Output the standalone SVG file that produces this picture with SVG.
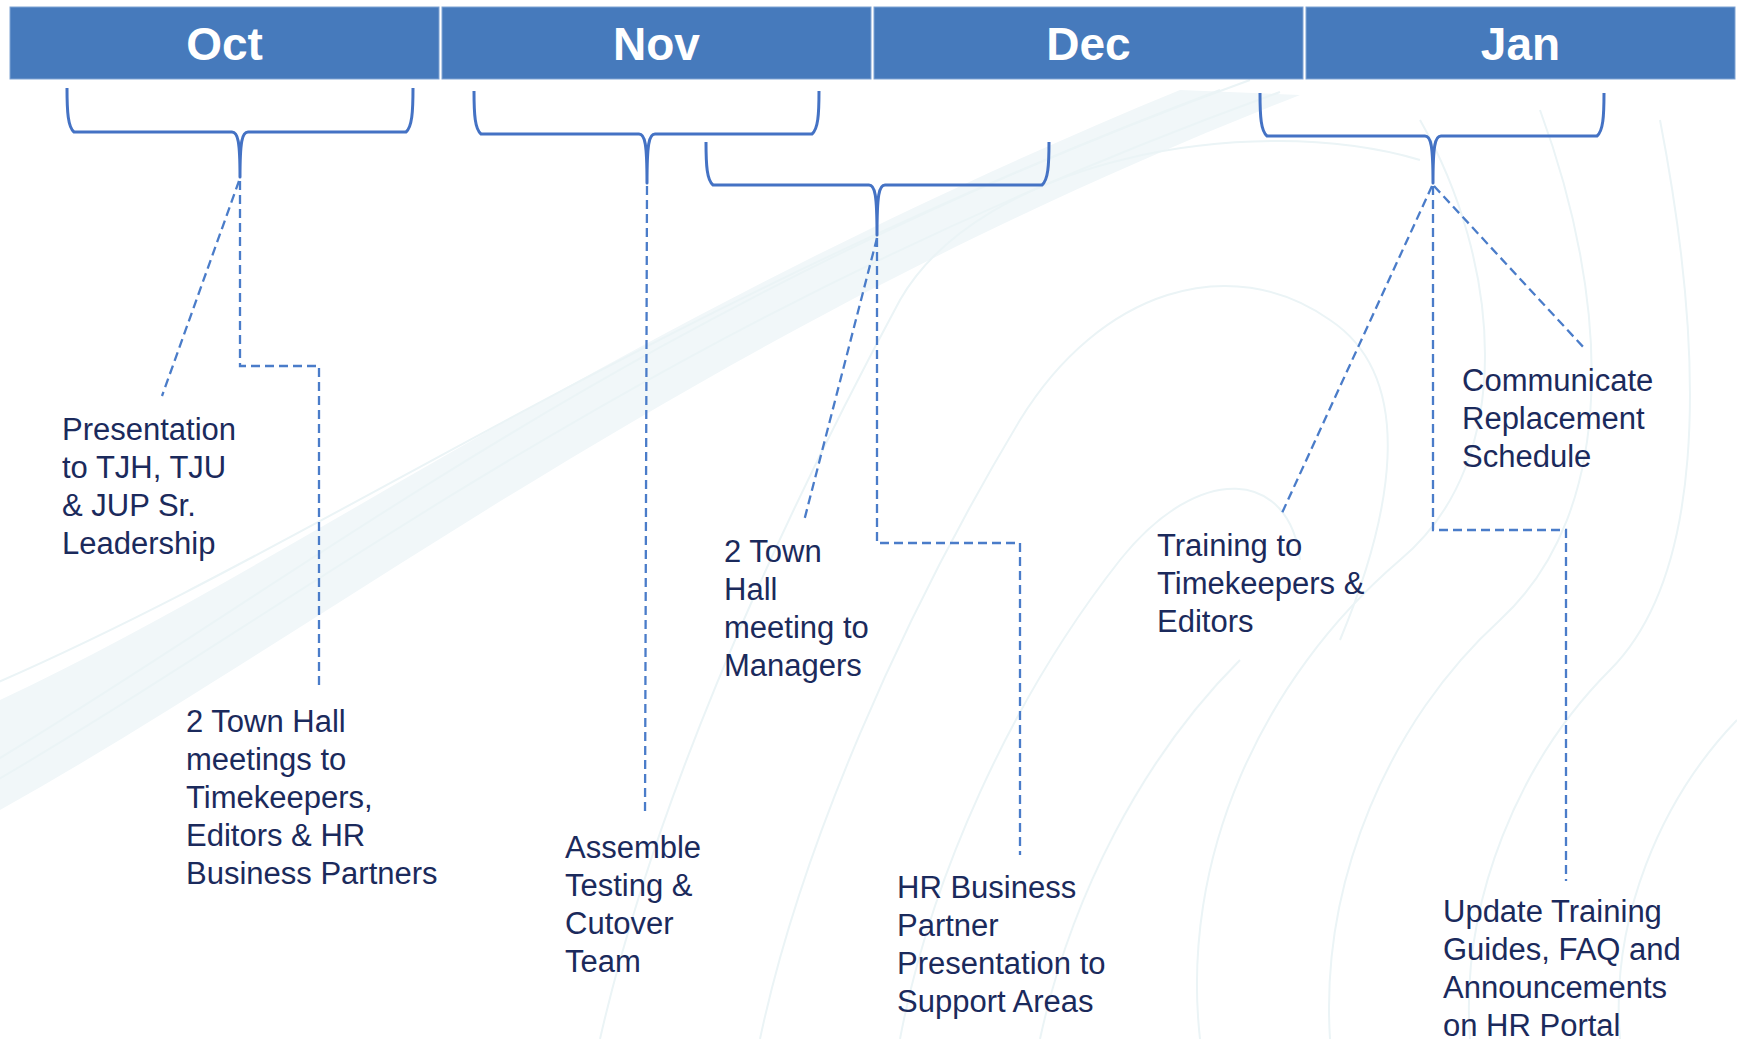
<svg xmlns="http://www.w3.org/2000/svg" width="1737" height="1039" viewBox="0 0 1737 1039">
  <style>
    .bg { fill: none; stroke: #EBF4F6; stroke-width: 2; }
    .ribbon { fill: #F1F7F9; stroke: none; }
    .month rect { fill: #467ABC; stroke: #7FA3D3; stroke-width: 1; }
    .month text { font-family: "Liberation Sans", Arial, sans-serif; font-weight: bold; font-size: 46px; fill: #FFFFFF; text-anchor: middle; }
    .brace { fill: none; stroke: #4472C4; stroke-width: 3; stroke-linejoin: round; }
    .dash { fill: none; stroke: #4A7CC9; stroke-width: 2.3; stroke-dasharray: 9 5; }
    .label { font-family: "Liberation Sans", Arial, sans-serif; font-size: 31px; fill: #1B2A5C; }
  </style>

  <rect x="0" y="0" width="1737" height="1039" fill="#FFFFFF"/>

  <!-- faint background ribbon and contour lines -->
  <g id="background">
    <path class="ribbon" d="M 0,700 C 300,560 620,320 1180,90 L 1300,95 C 700,330 340,620 0,810 Z"/>
    <path class="bg" d="M -20,770 C 300,580 640,300 1250,80"/>
    <path class="bg" d="M -20,790 C 310,600 650,320 1280,92"/>
    <path class="bg" d="M -20,690 C 330,540 640,310 1220,90"/>
    <path class="bg" d="M 600,1039 C 650,820 760,560 900,300 C 980,160 1250,110 1420,160"/>
    <path class="bg" d="M 760,1039 C 800,850 900,620 1020,420 C 1100,290 1230,250 1330,320 C 1420,380 1390,520 1340,640"/>
    <path class="bg" d="M 900,1039 C 930,880 1010,700 1120,560 C 1200,460 1290,470 1300,560"/>
    <path class="bg" d="M 1040,1039 C 1070,900 1140,760 1240,660"/>
    <path class="bg" d="M 1200,1039 C 1180,860 1260,680 1400,560 C 1520,460 1500,260 1420,120"/>
    <path class="bg" d="M 1330,1039 C 1320,880 1390,720 1500,620 C 1620,510 1610,300 1540,110"/>
    <path class="bg" d="M 1470,1039 C 1460,900 1520,760 1610,670 C 1700,580 1710,380 1660,120"/>
    <path class="bg" d="M 1620,1039 C 1610,920 1660,800 1737,720"/>
  </g>

  <!-- month header -->
  <g id="month-oct" class="month"><rect x="10" y="7" width="429" height="72"/><text x="224.5" y="60">Oct</text></g>
  <g id="month-nov" class="month"><rect x="442" y="7" width="429" height="72"/><text x="656.5" y="60">Nov</text></g>
  <g id="month-dec" class="month"><rect x="874" y="7" width="429" height="72"/><text x="1088.5" y="60">Dec</text></g>
  <g id="month-jan" class="month"><rect x="1306" y="7" width="429" height="72"/><text x="1520.5" y="60">Jan</text></g>

  <!-- braces grouping the periods -->
  <g id="brace-oct"><path class="brace" d="M 67,88 C 67,112 68,127 74,132 L 232,132 C 238,132 240,142 240,177 C 240,142 242,132 248,132 L 406,132 C 412,127 413,112 413,88"/></g>
  <g id="brace-nov"><path class="brace" d="M 474,91 C 474,115 475,129 481,134 L 639,134 C 645,134 647,144 647,183 C 647,144 649,134 655,134 L 812,134 C 818,129 819,115 819,91"/></g>
  <g id="brace-novdec"><path class="brace" d="M 706,142 C 706,166 707,180 713,185 L 869,185 C 875,185 877,195 877,235 C 877,195 879,185 885,185 L 1042,185 C 1048,180 1049,166 1049,142"/></g>
  <g id="brace-jan"><path class="brace" d="M 1260,93 C 1260,117 1261,131 1267,136 L 1425,136 C 1431,136 1433,146 1433,183 C 1433,146 1435,136 1441,136 L 1597,136 C 1603,131 1604,117 1604,93"/></g>

  <!-- dashed leaders from the braces to the activities -->
  <g id="connectors">
    <path class="dash" d="M 239,181 L 162,396"/>
    <path class="dash" d="M 240,181 L 240,366 L 319,366 L 319,690"/>
    <path class="dash" d="M 647,186 L 645,816"/>
    <path class="dash" d="M 877,238 L 804,521"/>
    <path class="dash" d="M 877,238 L 877,543 L 1020,543 L 1020,855"/>
    <path class="dash" d="M 1432,186 L 1282,513"/>
    <path class="dash" d="M 1434,186 L 1586,350"/>
    <path class="dash" d="M 1433,186 L 1433,530 L 1566,530 L 1566,881"/>
  </g>

  <!-- activities -->
  <g id="act-presentation">
    <text class="label" x="62" y="440"><tspan x="62">Presentation</tspan><tspan x="62" dy="38">to TJH, TJU</tspan><tspan x="62" dy="38">&amp; JUP Sr.</tspan><tspan x="62" dy="38">Leadership</tspan></text>
  </g>
  <g id="act-townhall-timekeepers">
    <text class="label" x="186" y="732"><tspan x="186">2 Town Hall</tspan><tspan x="186" dy="38">meetings to</tspan><tspan x="186" dy="38">Timekeepers,</tspan><tspan x="186" dy="38">Editors &amp; HR</tspan><tspan x="186" dy="38">Business Partners</tspan></text>
  </g>
  <g id="act-assemble">
    <text class="label" x="565" y="858"><tspan x="565">Assemble</tspan><tspan x="565" dy="38">Testing &amp;</tspan><tspan x="565" dy="38">Cutover</tspan><tspan x="565" dy="38">Team</tspan></text>
  </g>
  <g id="act-townhall-managers">
    <text class="label" x="724" y="562"><tspan x="724">2 Town</tspan><tspan x="724" dy="38">Hall</tspan><tspan x="724" dy="38">meeting to</tspan><tspan x="724" dy="38">Managers</tspan></text>
  </g>
  <g id="act-hrbp">
    <text class="label" x="897" y="898"><tspan x="897">HR Business</tspan><tspan x="897" dy="38">Partner</tspan><tspan x="897" dy="38">Presentation to</tspan><tspan x="897" dy="38">Support Areas</tspan></text>
  </g>
  <g id="act-training">
    <text class="label" x="1157" y="556"><tspan x="1157">Training to</tspan><tspan x="1157" dy="38">Timekeepers &amp;</tspan><tspan x="1157" dy="38">Editors</tspan></text>
  </g>
  <g id="act-communicate">
    <text class="label" x="1462" y="391"><tspan x="1462">Communicate</tspan><tspan x="1462" dy="38">Replacement</tspan><tspan x="1462" dy="38">Schedule</tspan></text>
  </g>
  <g id="act-update">
    <text class="label" x="1443" y="922"><tspan x="1443">Update Training</tspan><tspan x="1443" dy="38">Guides, FAQ and</tspan><tspan x="1443" dy="38">Announcements</tspan><tspan x="1443" dy="38">on HR Portal</tspan></text>
  </g>
</svg>
